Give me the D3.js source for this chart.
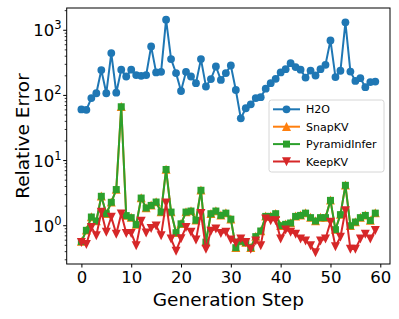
<!DOCTYPE html>
<html>
<head>
<meta charset="utf-8">
<script src="https://cdn.jsdelivr.net/npm/d3@7"></script>
<style>
  body { margin: 0; background: #fff; }
  svg { font-family: "DejaVu Sans", sans-serif; }
</style>
</head>
<body>
<svg id="chart" width="399" height="319"></svg>
<script>
// values (generation step 0..59)
const steps = d3.range(0, 60);

const h2o = [61, 60, 91, 108, 245, 108, 447, 110, 248, 195,
    248, 205, 200, 205, 565, 225, 230, 1456, 361, 220,
    117, 230, 195, 154, 361, 137, 178, 278, 173, 220,
    288, 121, 44.5, 63.5, 73, 91, 94, 127, 154, 180,
    225, 253, 313, 272, 248, 188, 241, 202, 253, 295,
    699, 191, 239, 1324, 232, 167, 184, 134, 160, 163];

const snapKV = [0.57, 0.85, 1.36, 1.18, 2.83, 1.53, 2.29, 3.59, 67, 1.43,
    1.33, 1.04, 2.66, 1.87, 2.05, 2.31, 1.62, 7.3, 1.62, 0.78,
    1.07, 1.62, 1.68, 1.21, 3.5, 0.56, 1.53, 1.68, 1.44, 1.56,
    1.26, 0.46, 0.58, 0.55, 0.46, 0.68, 0.83, 1.39, 1.39, 1.53,
    1.0, 1.05, 1.1, 1.39, 1.44, 1.56, 1.33, 1.18, 1.33, 1.33,
    2.45, 0.87, 1.48, 4.17, 1.0, 1.14, 1.33, 1.44, 1.2, 1.56];

const pyramidInfer = [0.57, 0.85, 1.36, 1.18, 2.83, 1.53, 2.29, 3.59, 67, 1.43,
    1.33, 1.04, 2.66, 1.87, 2.05, 2.31, 1.62, 7.3, 1.62, 0.78,
    1.07, 1.62, 1.68, 1.21, 3.5, 0.56, 1.53, 1.68, 1.44, 1.56,
    1.26, 0.46, 0.58, 0.55, 0.46, 0.68, 0.83, 1.39, 1.39, 1.53,
    1.0, 1.05, 1.1, 1.39, 1.44, 1.56, 1.33, 1.18, 1.33, 1.33,
    2.45, 0.87, 1.48, 4.17, 1.0, 1.14, 1.33, 1.44, 1.2, 1.56];

const keepKV = [0.56, 0.52, 0.95, 0.71, 1.62, 0.8, 1.36, 0.75, 1.53, 0.77,
    0.77, 0.5, 1.18, 0.78, 0.92, 1.0, 0.71, 2.26, 0.63, 0.41,
    0.64, 0.95, 0.8, 0.61, 1.56, 0.44, 0.83, 0.9, 0.77, 0.8,
    0.61, 0.55, 0.63, 0.56, 0.44, 0.59, 0.5, 1.28, 1.21, 1.21,
    0.63, 0.87, 0.8, 0.75, 0.63, 0.59, 0.5, 0.39, 0.59, 0.63,
    1.14, 0.48, 0.67, 1.72, 0.44, 0.44, 0.63, 0.75, 0.63, 0.85];

const xTicks = [0, 10, 20, 30, 40, 50, 60];
const yTicks = [1, 10, 100, 1000];

const series = [
    {name: "H2O", values: h2o, color: "#1f77b4", marker: "circle"},
    {name: "SnapKV", values: snapKV, color: "#ff7f0e", marker: "triUp"},
    {name: "PyramidInfer", values: pyramidInfer, color: "#2ca02c", marker: "square"},
    {name: "KeepKV", values: keepKV, color: "#d62728", marker: "triDown"}
];

const svg = d3.select("#chart");
const plot = {left: 66.7, right: 390, top: 8, bottom: 264};

// matplotlib style 5% margins (log space for y)
const xm = (59 - 0) * 0.05;
const x = d3.scaleLinear()
    .domain([0 - xm, 59 + xm])
    .range([plot.left, plot.right]);

let allVals = [];
series.forEach(s => allVals = allVals.concat(s.values));
const lmin = Math.log10(d3.min(allVals)), lmax = Math.log10(d3.max(allVals));
const ym = (lmax - lmin) * 0.05;
const y = d3.scaleLog()
    .domain([Math.pow(10, lmin - ym), Math.pow(10, lmax + ym)])
    .range([plot.bottom, plot.top]);

// marker shapes
function drawMarker(g, type, cx, cy, color) {
    if (type === "circle") {
        g.append("circle").attr("cx", cx).attr("cy", cy).attr("r", 3.9).attr("fill", color);
    } else if (type === "square") {
        g.append("rect").attr("x", cx - 3.5).attr("y", cy - 3.5)
            .attr("width", 7).attr("height", 7).attr("fill", color);
    } else if (type === "triUp") {
        g.append("path")
            .attr("d", `M${cx},${cy - 4.8}L${cx + 4.5},${cy + 4.2}L${cx - 4.5},${cy + 4.2}Z`)
            .attr("fill", color);
    } else if (type === "triDown") {
        g.append("path")
            .attr("d", `M${cx},${cy + 4.8}L${cx + 4.5},${cy - 4.2}L${cx - 4.5},${cy - 4.2}Z`)
            .attr("fill", color);
    }
}

svg.append("defs").append("clipPath").attr("id", "clip")
    .append("rect")
    .attr("x", plot.left).attr("y", plot.top)
    .attr("width", plot.right - plot.left).attr("height", plot.bottom - plot.top);

const line = d3.line()
    .x((d, i) => x(steps[i]))
    .y(d => y(d));

const dataG = svg.append("g").attr("clip-path", "url(#clip)");

series.forEach(s => {
    dataG.append("path")
        .datum(s.values)
        .attr("d", line)
        .attr("fill", "none")
        .attr("stroke", s.color)
        .attr("stroke-width", 2);
    const mg = dataG.append("g");
    s.values.forEach((v, i) => drawMarker(mg, s.marker, x(steps[i]), y(v), s.color));
});

// axes
const xAxis = d3.axisBottom(x).tickValues(xTicks).tickSize(3.5).tickPadding(4).tickFormat(d3.format("d"));
const gx = svg.append("g").attr("transform", `translate(0,${plot.bottom})`).call(xAxis);
gx.select(".domain").remove();
gx.selectAll("text").attr("font-size", 16.5).attr("fill", "#000").attr("font-family", "DejaVu Sans");
gx.selectAll("line").attr("stroke", "#000").attr("stroke-width", 1);

// y axis: major ticks with 10^n labels, minor ticks between
const minorTicks = [];
for (let e = -1; e <= 3; e++) {
    for (let m = 2; m <= 9; m++) {
        const v = m * Math.pow(10, e);
        if (v >= y.domain()[0] && v <= y.domain()[1]) minorTicks.push(v);
    }
}
const gy = svg.append("g");
gy.selectAll(".minor").data(minorTicks).enter().append("line")
    .attr("x1", plot.left - 2).attr("x2", plot.left)
    .attr("y1", d => y(d)).attr("y2", d => y(d))
    .attr("stroke", "#000").attr("stroke-width", 0.8);
gy.selectAll(".major").data(yTicks).enter().append("line")
    .attr("x1", plot.left - 3.5).attr("x2", plot.left)
    .attr("y1", d => y(d)).attr("y2", d => y(d))
    .attr("stroke", "#000").attr("stroke-width", 1);
const yl = gy.selectAll(".lab").data(yTicks).enter().append("text")
    .attr("x", 61.5).attr("y", d => y(d) + 6)
    .attr("text-anchor", "end")
    .attr("font-size", 16.5).attr("fill", "#000");
yl.append("tspan").text("10");
yl.append("tspan").attr("dy", -7).attr("font-size", 11.5).text(d => Math.round(Math.log10(d)));

// frame
svg.append("rect")
    .attr("x", plot.left).attr("y", plot.top)
    .attr("width", plot.right - plot.left).attr("height", plot.bottom - plot.top)
    .attr("fill", "none").attr("stroke", "#000").attr("stroke-width", 1);

// axis titles
svg.append("text")
    .attr("x", (plot.left + plot.right) / 2).attr("y", 306)
    .attr("text-anchor", "middle").attr("font-size", 18.5).attr("fill", "#000")
    .text("Generation Step");
svg.append("text")
    .attr("transform", `translate(29,${(plot.top + plot.bottom) / 2}) rotate(-90)`)
    .attr("text-anchor", "middle").attr("font-size", 18.5).attr("fill", "#000")
    .text("Relative Error");

// legend
const lg = svg.append("g");
lg.append("rect")
    .attr("x", 269).attr("y", 100).attr("width", 115).attr("height", 72)
    .attr("rx", 2.5).attr("fill", "#fff").attr("fill-opacity", 0.8)
    .attr("stroke", "#d6d6d6").attr("stroke-width", 1);
series.forEach((s, i) => {
    const ly = 109.3 + i * 17.4;
    lg.append("line").attr("x1", 273).attr("x2", 300).attr("y1", ly).attr("y2", ly)
        .attr("stroke", s.color).attr("stroke-width", 2);
    drawMarker(lg, s.marker, 286.5, ly, s.color);
    lg.append("text").attr("x", 306).attr("y", ly + 4)
        .attr("font-size", 11).attr("fill", "#000").text(s.name);
});
</script>
</body>
</html>
